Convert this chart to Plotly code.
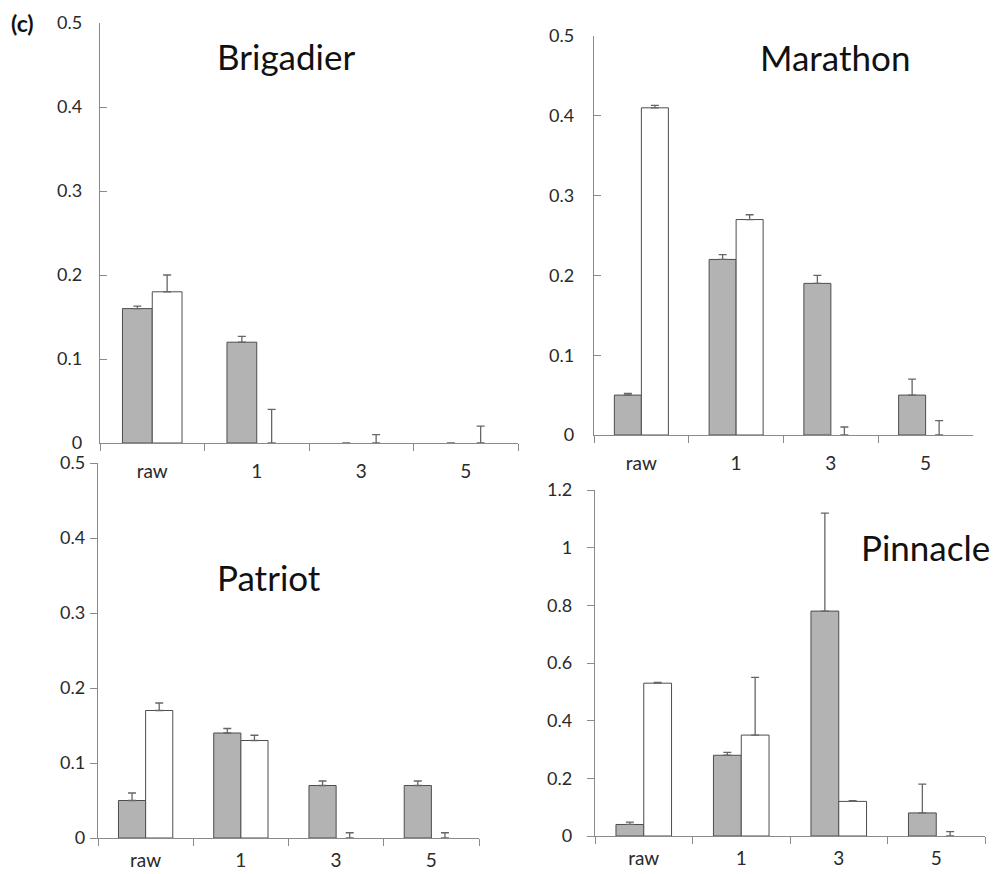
import plotly.graph_objects as go

categories = ["raw", "1", "3", "5"]

brig_grey = [0.16, 0.12, 0.0, 0.0]
brig_grey_err = [0.003, 0.007, None, None]
brig_white = [0.18, 0.0, 0.0, 0.0]
brig_white_err = [0.02, 0.04, 0.01, 0.02]

mara_grey = [0.05, 0.22, 0.19, 0.05]
mara_grey_err = [0.002, 0.006, 0.01, 0.02]
mara_white = [0.41, 0.27, 0.0, 0.0]
mara_white_err = [0.003, 0.006, 0.01, 0.018]

patr_grey = [0.05, 0.14, 0.07, 0.07]
patr_grey_err = [0.01, 0.006, 0.006, 0.006]
patr_white = [0.17, 0.13, 0.0, 0.0]
patr_white_err = [0.01, 0.007, 0.007, 0.007]

pinn_grey = [0.04, 0.28, 0.78, 0.08]
pinn_grey_err = [0.008, 0.01, 0.34, 0.10]
pinn_white = [0.53, 0.35, 0.12, 0.0]
pinn_white_err = [0.003, 0.20, 0.003, 0.015]

titles = ["Brigadier", "Marathon", "Patriot", "Pinnacle"]
y_max = [0.5, 0.5, 0.5, 1.2]
y_step = [0.1, 0.1, 0.1, 0.2]

# page body margin is removed by a post script, so the figure fills the window
W, H = 997, 874


def fx(px):
    return px / W


def fy(py):
    return 1 - py / H


# panel pixel boxes in the page: (left, right, top, bottom)
boxes = [(100, 518, 23, 443), (594, 973, 36, 435), (98, 479, 463, 838), (595, 985, 490, 836)]
ytick_dir = ["inside", "inside", "outside", "outside"]
ylab_standoff = [13, 15, 1, 11]
xlab_standoff = [11, 11, 5, 5]
title_pos = [(286, 56), (835, 57), (269, 577), (925, 547)]

panels = [
    (brig_grey, brig_grey_err, brig_white, brig_white_err),
    (mara_grey, mara_grey_err, mara_white, mara_white_err),
    (patr_grey, patr_grey_err, patr_white, patr_white_err),
    (pinn_grey, pinn_grey_err, pinn_white, pinn_white_err),
]

FONT = "Lato"
AX = "#8a8a8a"
TXT = "#2a2a2a"
fig = go.Figure()
layout = dict(
    width=W, height=H, autosize=False,
    margin=dict(l=0, r=0, t=0, b=0, autoexpand=False),
    paper_bgcolor="white", plot_bgcolor="white",
    barmode="group", bargap=0.43, bargroupgap=0.0,
    showlegend=False,
    font=dict(family=FONT, size=18, color=TXT),
    annotations=[],
)

for i, (g, ge, w, we) in enumerate(panels):
    n = "" if i == 0 else str(i + 1)
    xa, ya = "x" + n, "y" + n
    err_style = dict(type="data", symmetric=False, arrayminus=[0] * 4,
                     color="#666", thickness=1.3, width=4)
    fig.add_trace(go.Bar(
        x=categories, y=g, xaxis=xa, yaxis=ya, offsetgroup="g",
        marker=dict(color="#b3b3b3",
                    line=dict(color="#4d4d4d", width=[1 if v > 0 else 0 for v in g])),
        error_y=dict(array=ge, **err_style)))
    fig.add_trace(go.Bar(
        x=categories, y=w, xaxis=xa, yaxis=ya, offsetgroup="w",
        marker=dict(color="white",
                    line=dict(color="#4d4d4d", width=[1 if v > 0 else 0 for v in w])),
        error_y=dict(array=we, **err_style)))
    l, r, t, b = boxes[i]
    layout["xaxis" + n] = dict(
        domain=[fx(l), fx(r)], anchor=ya, type="category", range=[-0.5, 3.5],
        automargin=False,
        tickson="boundaries", ticks="outside", ticklen=7, tickcolor=AX,
        showline=True, linecolor=AX, linewidth=1.3, showgrid=False, zeroline=False,
        ticklabelstandoff=xlab_standoff[i], tickfont=dict(family=FONT, size=19, color=TXT))
    layout["yaxis" + n] = dict(
        domain=[fy(b), fy(t)], anchor=xa, range=[0, y_max[i]],
        automargin=False,
        dtick=y_step[i], tick0=0, ticks=ytick_dir[i], ticklen=7, tickcolor=AX,
        showline=True, linecolor=AX, linewidth=1.3, showgrid=False, zeroline=False,
        ticklabelstandoff=ylab_standoff[i], tickfont=dict(family=FONT, size=18, color=TXT))
    tx, ty = title_pos[i]
    layout["annotations"].append(dict(
        text=titles[i], x=fx(tx), y=fy(ty), xref="paper", yref="paper",
        showarrow=False, xanchor="center", yanchor="middle",
        font=dict(family=FONT, size=35, color="#111")))

layout["annotations"].append(dict(
    text="<b>(c)</b>", x=fx(9), y=fy(23), xref="paper", yref="paper",
    showarrow=False, xanchor="left", yanchor="middle",
    font=dict(family=FONT, size=23, color="#111")))

fig.update_layout(**layout)
fig.write_html("out.html", config={"displayModeBar": False},
               post_script="document.body.style.margin='0px';"
                           "document.documentElement.style.margin='0px';")
